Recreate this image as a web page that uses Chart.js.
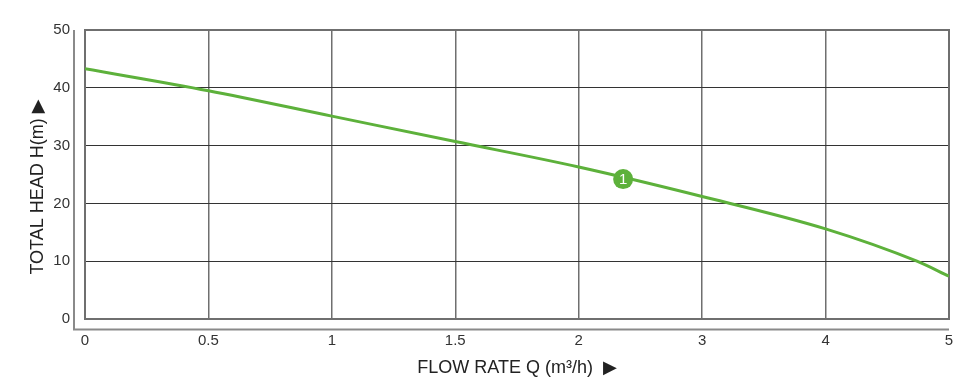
<!DOCTYPE html>
<html>
<head>
<meta charset="utf-8">
<script src="https://cdn.jsdelivr.net/npm/chart.js@4.4.1/dist/chart.umd.min.js"></script>
<style>
  html, body { margin: 0; padding: 0; background: #ffffff; }
  #wrap { width: 967px; height: 392px; }
</style>
</head>
<body>
<div id="wrap"><canvas id="c" width="967" height="392"></canvas></div>
<script>
// Tick labels of the flow axis (unevenly valued, evenly spaced)
const flowTicks = [0, 0.5, 1, 1.5, 2, 3, 4, 5];
const headTicks = [0, 10, 20, 30, 40, 50];

// Pump curve 1
const flowQ = [0, 0.5, 1, 1.5, 2, 3, 4, 4.74, 5];
const headH = [43.3, 39.5, 35.1, 30.7, 26.3, 21.2, 15.6, 10.0, 7.4];

// Curve label marker
const markerQ = [2.36];
const markerH = [24.2];
const markerText = ['1'];

const xTitle = 'FLOW RATE Q (m\u00B3/h)  \u25B6';
// rotated text: the right-pointing arrow shows pointing up, as in the reference
const yTitle = 'TOTAL HEAD H(m) \u25B6\u00A0\u00A0\u00A0\u00A0\u00A0';

// Map flow value onto the evenly spaced tick index axis (piecewise linear)
function flowToPos(q) {
  for (let i = 0; i < flowTicks.length - 1; i++) {
    const a = flowTicks[i], b = flowTicks[i + 1];
    if (q <= b || i === flowTicks.length - 2) {
      return i + (q - a) / (b - a);
    }
  }
  return flowTicks.length - 1;
}

const curvePts = flowQ.map((q, i) => ({ x: flowToPos(q), y: headH[i] }));
const markerPts = markerQ.map((q, i) => ({ x: flowToPos(q), y: markerH[i] }));

const GREEN = '#5db13b';
const FONT = "'Liberation Sans', Arial, 'DejaVu Sans', sans-serif";

const framePlugin = {
  id: 'frame',
  beforeDatasetsDraw(chart) {
    const { ctx, chartArea: a } = chart;
    ctx.save();
    // plot box border
    ctx.strokeStyle = '#6f6f6f';
    ctx.lineWidth = 2;
    ctx.strokeRect(a.left, a.top, a.right - a.left, a.bottom - a.top);
    // outer L-shaped axis lines
    ctx.strokeStyle = '#8a8a8a';
    ctx.lineWidth = 2;
    ctx.beginPath();
    ctx.moveTo(a.left - 11, a.top);
    ctx.lineTo(a.left - 11, a.bottom + 10.5);
    ctx.lineTo(a.right, a.bottom + 10.5);
    ctx.stroke();
    ctx.restore();
  },
  afterDatasetsDraw(chart) {
    const { ctx } = chart;
    const meta = chart.getDatasetMeta(1);
    ctx.save();
    ctx.fillStyle = '#ffffff';
    ctx.font = '15px ' + FONT;
    ctx.textAlign = 'center';
    ctx.textBaseline = 'middle';
    meta.data.forEach((pt, i) => {
      ctx.fillText(markerText[i], pt.x, pt.y + 1);
    });
    ctx.restore();
  }
};

new Chart(document.getElementById('c'), {
  type: 'scatter',
  data: {
    datasets: [
      {
        data: curvePts,
        showLine: true,
        borderColor: GREEN,
        borderWidth: 3,
        pointRadius: 0,
        fill: false,
        cubicInterpolationMode: 'monotone'
      },
      {
        data: markerPts,
        showLine: false,
        pointRadius: 10,
        pointHoverRadius: 10,
        pointBackgroundColor: GREEN,
        pointBorderColor: GREEN,
        pointBorderWidth: 0
      }
    ]
  },
  options: {
    responsive: false,
    animation: false,
    devicePixelRatio: 1,
    layout: { padding: { top: 30, right: 18, left: 0, bottom: 0 } },
    plugins: { legend: { display: false }, tooltip: { enabled: false } },
    scales: {
      x: {
        type: 'linear',
        min: 0,
        max: flowTicks.length - 1,
        afterBuildTicks: (s) => { s.ticks = flowTicks.map((v, i) => ({ value: i })); },
        afterFit: (s) => { s.height = 73; },
        ticks: {
          autoSkip: false,
          maxRotation: 0,
          padding: 13,
          color: '#333333',
          font: { family: FONT, size: 15 },
          callback: (v) => String(flowTicks[Math.round(v)])
        },
        grid: { color: '#6f6f6f', lineWidth: 1.5, drawTicks: false },
        border: { display: false },
        title: {
          display: true,
          text: xTitle,
          color: '#222222',
          font: { family: FONT, size: 18 },
          padding: { top: 0, bottom: 13 }
        }
      },
      y: {
        type: 'linear',
        min: 0,
        max: 50,
        afterBuildTicks: (s) => { s.ticks = headTicks.map(v => ({ value: v })); },
        afterFit: (s) => { s.width = 85; },
        ticks: {
          padding: 15,
          color: '#333333',
          font: { family: FONT, size: 15 }
        },
        grid: { color: '#333333', lineWidth: 1, drawTicks: false },
        border: { display: false },
        title: {
          display: true,
          text: yTitle,
          color: '#222222',
          font: { family: FONT, size: 18 },
          padding: { top: 27, bottom: 0 }
        }
      }
    }
  },
  plugins: [framePlugin]
});
</script>
</body>
</html>
